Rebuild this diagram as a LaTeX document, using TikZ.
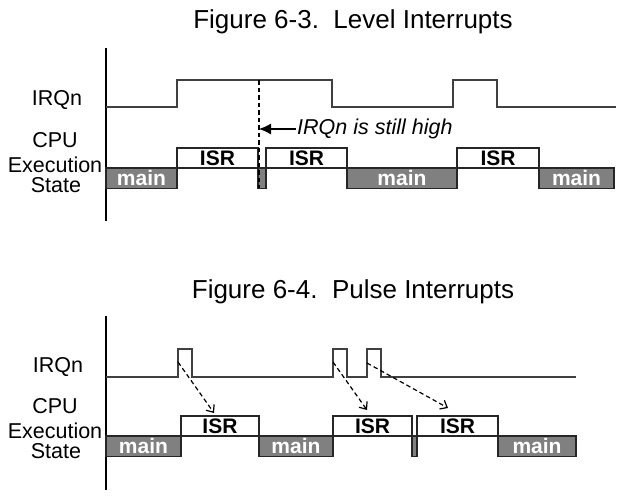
\documentclass[tikz,border=0pt]{standalone}
\usepackage{fontspec}
\setmainfont{Liberation Sans}
\usetikzlibrary{arrows.meta}

\begin{document}
\begin{tikzpicture}[x=1pt,y=-1pt,
	figtitle/.style={font=\fontsize{26}{30}\selectfont, anchor=base},
	signame/.style={font=\fontsize{21.5}{24}\selectfont, anchor=base},
	axis/.style={black, line width=2.8pt},
	wave/.style={black!75, line width=1.6pt},
	isrbox/.style={draw=black!85, line width=1.1pt, fill=white, minimum height=20, inner sep=0pt, outer sep=0pt, font=\fontsize{21}{24}\selectfont\bfseries},
	mainbox/.style={draw=black!85, line width=1.1pt, fill=black!50, text=white, minimum height=20.5, inner sep=0pt, outer sep=0pt, font=\fontsize{21}{24}\selectfont\bfseries},
	trigger/.style={black, line width=1.2pt, dash pattern=on 4.5pt off 3pt, -{Straight Barb[length=6pt,width=10pt]}}]
		\useasboundingbox (0,0) rectangle (626,498);

		\node[figtitle] (titleA) at (353,28) {Figure 6-3.\ \ Level Interrupts};
		\draw[axis] (106,48) -- (106,221);
		\node[signame] (irqA) at (57,105) {IRQn};
		\node[signame] (cpuA) at (55,147) {CPU};
		\node[signame] (execA) at (55,172) {Execution};
		\node[signame] (stateA) at (56,192) {State};
		\draw[wave] (106,107) -- (177,107) -- (177,80) -- (332,80) -- (332,107) -- (453,107) -- (453,80) -- (497,80) -- (497,107) -- (616,107);
		\node[mainbox, minimum width=71, anchor=north west] (mainA1) at (106,168) {main};
		\node[isrbox, minimum width=81, anchor=south west] (isrA1) at (177,168) {ISR};
		\node[mainbox, minimum width=8, anchor=north west] (mainA2) at (258,168) {};
		\node[isrbox, minimum width=81, anchor=south west] (isrA2) at (266,168) {ISR};
		\node[mainbox, minimum width=110, anchor=north west] (mainA3) at (347,168) {main};
		\node[isrbox, minimum width=82, anchor=south west] (isrA3) at (457,168) {ISR};
		\node[mainbox, minimum width=75, anchor=north west] (mainA4) at (539,168) {main};
		\coordinate (highTop) at (259,80);
		\coordinate (highBot) at (259,188);
		\draw[black, line width=1.2pt, dash pattern=on 4.5pt off 3pt] (highTop) -- (highBot);
		\node[anchor=west, inner sep=1pt, font=\fontsize{21.5}{24}\selectfont\itshape] (still) at (296,129) {IRQn is still high};
		\draw[black, line width=1.1pt, -{Latex[length=12pt,width=11pt]}] (still.west) -- (still.west -| highTop);

		\node[figtitle] (titleB) at (353,298) {Figure 6-4.\ \ Pulse Interrupts};
		\draw[axis] (106,316) -- (106,490);
		\node[signame] (irqB) at (58,372) {IRQn};
		\node[signame] (cpuB) at (55,413) {CPU};
		\node[signame] (execB) at (55,438) {Execution};
		\node[signame] (stateB) at (56,458) {State};
		\draw[wave] (106,377) -- (178,377) -- (178,349) -- (192,349) -- (192,377) -- (333,377) -- (333,349) -- (347,349) -- (347,377) -- (367,377) -- (367,349) -- (381,349) -- (381,377) -- (576,377);
		\node[mainbox, minimum width=75, anchor=north west] (mainB1) at (106,436) {main};
		\node[isrbox, minimum width=78, anchor=south west] (isrB1) at (181,436) {ISR};
		\node[mainbox, minimum width=74, anchor=north west] (mainB2) at (259,436) {main};
		\node[isrbox, minimum width=79, anchor=south west] (isrB2) at (333,436) {ISR};
		\node[mainbox, minimum width=5, anchor=north west] (mainB3) at (412,436) {};
		\node[isrbox, minimum width=81, anchor=south west] (isrB3) at (417,436) {ISR};
		\node[mainbox, minimum width=78, anchor=north west] (mainB4) at (498,436) {main};
		\coordinate (pulseB1) at (178,362);
		\coordinate (pulseB2) at (333,362);
		\coordinate (pulseB3) at (367,363);
		\coordinate (hitB1) at (214,413);
		\coordinate (hitB2) at (367,410);
		\coordinate (hitB3) at (448,408);
		\draw[trigger] (pulseB1) -- (hitB1);
		\draw[trigger] (pulseB2) -- (hitB2);
		\draw[trigger] (pulseB3) -- (hitB3);
	\end{tikzpicture}
\end{document}
